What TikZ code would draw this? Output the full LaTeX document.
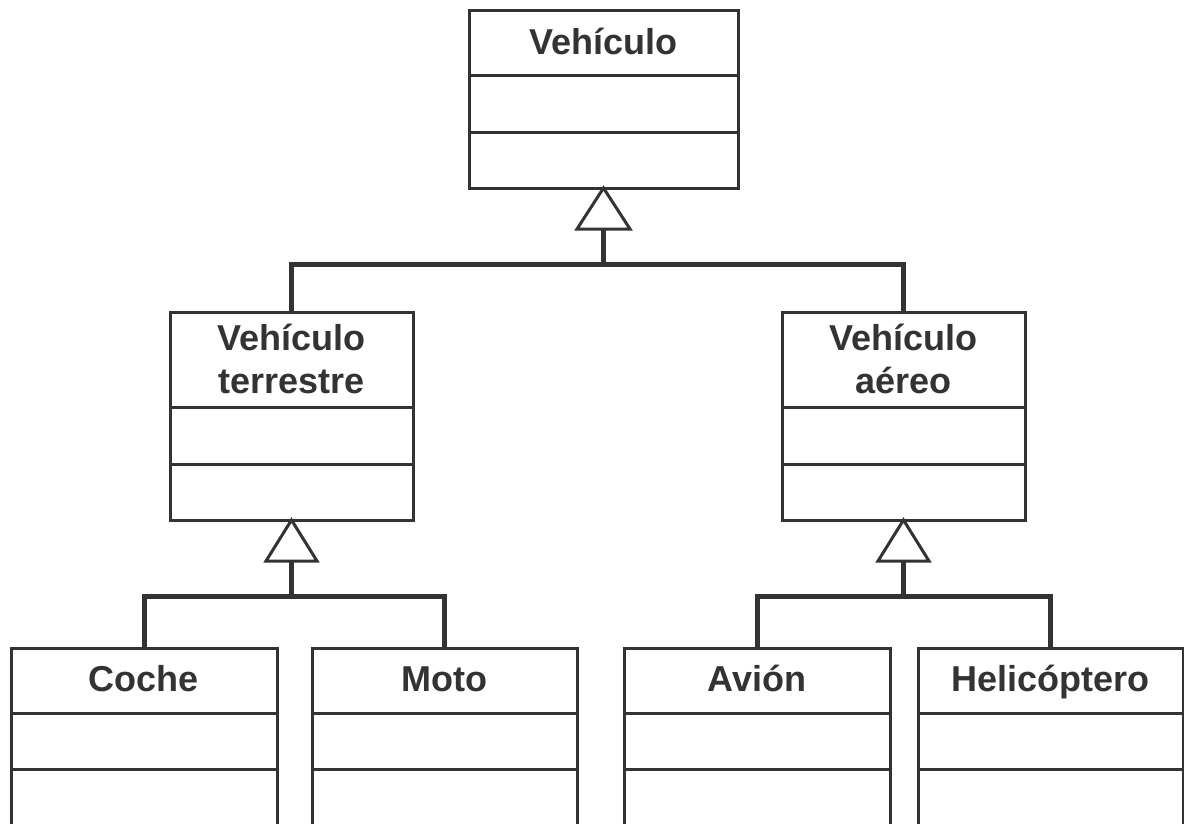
\documentclass[tikz,border=0pt]{standalone}
\usepackage{fontspec}
\setmainfont{Liberation Sans}
\usetikzlibrary{calc}
\definecolor{ink}{HTML}{333336}
\tikzset{
  classbox/.style={draw=ink, line width=3pt, rectangle, outer sep=0pt, inner sep=0pt, anchor=north west},
  sepline/.style={draw=ink, line width=3pt},
  cname/.style={text=ink, font=\bfseries\fontsize{36}{43}\selectfont, align=center, inner sep=0pt},
  conn/.style={draw=ink, line width=5pt, line join=miter},
  gen/.style={draw=ink, line width=3pt, fill=white, line join=miter},
}
\begin{document}
\begin{tikzpicture}[x=1pt,y=-1pt]
\useasboundingbox (0,0) rectangle (1184,823);
\clip (0,0) rectangle (1184,823);
\fill[white] (0,0) rectangle (1184,823);

% boxes
\node[classbox, minimum width=269pt, minimum height=178pt] (veh) at (469,10) {};
\node[classbox, minimum width=243pt, minimum height=208pt] (terr) at (170,312) {};
\node[classbox, minimum width=243pt, minimum height=208pt] (aer) at (782,312) {};
\node[classbox, minimum width=266pt, minimum height=220pt] (coche) at (11,648) {};
\node[classbox, minimum width=265pt, minimum height=220pt] (moto) at (312,648) {};
\node[classbox, minimum width=266pt, minimum height=220pt] (avion) at (624,648) {};
\node[classbox, minimum width=265pt, minimum height=220pt] (heli) at (918,648) {};

% compartment separators
\draw[sepline] ($(veh.north west)+(0,65)$) -- ($(veh.north east)+(0,65)$);
\draw[sepline] ($(veh.north west)+(0,122)$) -- ($(veh.north east)+(0,122)$);
\foreach \b in {terr,aer}{
  \draw[sepline] ($(\b.north west)+(0,95)$) -- ($(\b.north east)+(0,95)$);
  \draw[sepline] ($(\b.north west)+(0,152)$) -- ($(\b.north east)+(0,152)$);
}
\foreach \b in {coche,moto,avion,heli}{
  \draw[sepline] ($(\b.north west)+(0,65)$) -- ($(\b.north east)+(0,65)$);
  \draw[sepline] ($(\b.north west)+(0,121)$) -- ($(\b.north east)+(0,121)$);
}

% names
\node[cname, anchor=base] (vehN) at ($(veh.north)+(0,44)$) {Vehículo};
\node[cname] (terrN) at ($(terr.north)+(0,47)$) {Vehículo\\terrestre};
\node[cname] (aerN) at ($(aer.north)+(0,47)$) {Vehículo\\aéreo};
\node[cname, anchor=base] (cocheN) at ($(coche.north)+(0,43)$) {Coche};
\node[cname, anchor=base] (motoN) at ($(moto.north)+(0,43)$) {Moto};
\node[cname, anchor=base] (avionN) at ($(avion.north)+(0,43)$) {Avión};
\node[cname, anchor=base] (heliN) at ($(heli.north)+(0,43)$) {Helicóptero};

% generalisation connectors
\coordinate (vehB) at ($(veh.south)+(0,41)$);
\coordinate (vehJ) at ($(veh.south)+(0,76)$);
\coordinate (terrB) at ($(terr.south)+(0,41)$);
\coordinate (terrJ) at ($(terr.south)+(0,76)$);
\coordinate (aerB) at ($(aer.south)+(0,41)$);
\coordinate (aerJ) at ($(aer.south)+(0,76)$);

\draw[conn] (vehB) -- (vehJ);
\draw[conn] (terr.north) |- (vehJ) -| (aer.north);
\draw[conn] (terrB) -- (terrJ);
\draw[conn] (coche.north) |- (terrJ) -| (moto.north);
\draw[conn] (aerB) -- (aerJ);
\draw[conn] (avion.north) |- (aerJ) -| (heli.north);

\draw[gen] (veh.south) -- ($(vehB)+(-26.5,0)$) -- ($(vehB)+(26.5,0)$) -- cycle;
\draw[gen] (terr.south) -- ($(terrB)+(-25.5,0)$) -- ($(terrB)+(25.5,0)$) -- cycle;
\draw[gen] (aer.south) -- ($(aerB)+(-25.5,0)$) -- ($(aerB)+(25.5,0)$) -- cycle;
\end{tikzpicture}
\end{document}
